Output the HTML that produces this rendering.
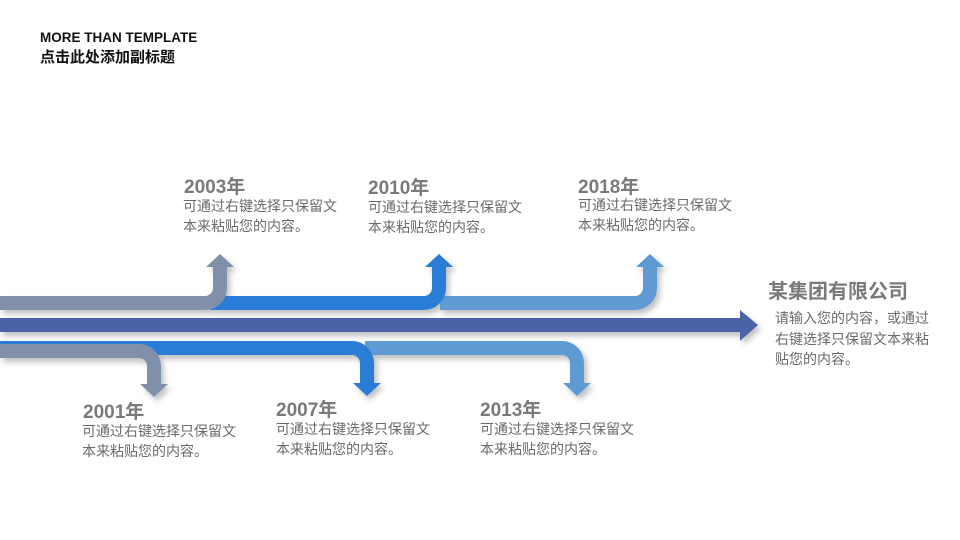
<!DOCTYPE html>
<html><head><meta charset="utf-8"><style>
body{margin:0;width:960px;height:540px;background:#fff;position:relative;overflow:hidden;font-family:"Liberation Sans","Noto Sans CJK SC",sans-serif}
.t{position:absolute;white-space:nowrap}
.yr{font-size:19px;font-weight:bold;color:#7a7a7a}
.d{font-size:14px;color:#6a6a6a;line-height:20px}
</style></head><body>
<div class="t" style="left:40px;top:30px;font-size:13.5px;font-weight:bold;color:#111">MORE THAN TEMPLATE</div>
<div class="t" style="left:40px;top:46px;font-size:15px;font-weight:bold;color:#111">点击此处添加副标题</div>
<svg width="960" height="540" style="position:absolute;left:0;top:0">
<defs><filter id="s" x="-10%" y="-50%" width="130%" height="200%"><feDropShadow dx="3" dy="4" stdDeviation="3" flood-color="#000" flood-opacity="0.25"/></filter></defs>
<g fill="none" stroke-width="14" filter="url(#s)">
<path d="M440 303 H635 A15 15 0 0 0 650 288 V264" stroke="#5f9bd2"/>
<polygon points="650,254 664,267 636,267" fill="#5f9bd2" stroke="none"/>
<path d="M210 303 H424 A15 15 0 0 0 439 288 V264" stroke="#2a7dd6"/>
<polygon points="439,254 453,267 425,267" fill="#2a7dd6" stroke="none"/>
<path d="M0 303 H205 A15 15 0 0 0 220 288 V264" stroke="#8190aa"/>
<polygon points="220,254 234,267 206,267" fill="#8190aa" stroke="none"/>
<path d="M0 325 H742" stroke="#4a62a8"/>
<polygon points="740,310 758,325 740,341" fill="#4a62a8" stroke="none"/>
<path d="M365 348 H562 A15 15 0 0 1 577 363 V385" stroke="#5f9bd2"/>
<polygon points="577,396 591,383 563,383" fill="#5f9bd2" stroke="none"/>
<path d="M0 348 H352 A15 15 0 0 1 367 363 V385" stroke="#2a7dd6"/>
<polygon points="367,396 381,383 353,383" fill="#2a7dd6" stroke="none"/>
<path d="M0 351 H139 A15 15 0 0 1 154 366 V385" stroke="#8190aa"/>
<polygon points="154,397 168,384 140,384" fill="#8190aa" stroke="none"/>
</g>
</svg>
<div class="t yr" style="left:184px;top:172px">2003年</div>
<div class="t d" style="left:183px;top:196px">可通过右键选择只保留文<br>本来粘贴您的内容。</div>
<div class="t yr" style="left:368px;top:173px">2010年</div>
<div class="t d" style="left:368px;top:197px">可通过右键选择只保留文<br>本来粘贴您的内容。</div>
<div class="t yr" style="left:578px;top:172px">2018年</div>
<div class="t d" style="left:578px;top:195px">可通过右键选择只保留文<br>本来粘贴您的内容。</div>
<div class="t yr" style="left:83px;top:397px">2001年</div>
<div class="t d" style="left:82px;top:421px">可通过右键选择只保留文<br>本来粘贴您的内容。</div>
<div class="t yr" style="left:276px;top:395px">2007年</div>
<div class="t d" style="left:276px;top:419px">可通过右键选择只保留文<br>本来粘贴您的内容。</div>
<div class="t yr" style="left:480px;top:395px">2013年</div>
<div class="t d" style="left:480px;top:419px">可通过右键选择只保留文<br>本来粘贴您的内容。</div>
<div class="t" style="left:768px;top:275px;font-size:20px;font-weight:bold;color:#7a7a7a">某集团有限公司</div>
<div class="t d" style="left:775px;top:308px;line-height:20.5px">请输入您的内容，或通过<br>右键选择只保留文本来粘<br>贴您的内容。</div>
</body></html>
